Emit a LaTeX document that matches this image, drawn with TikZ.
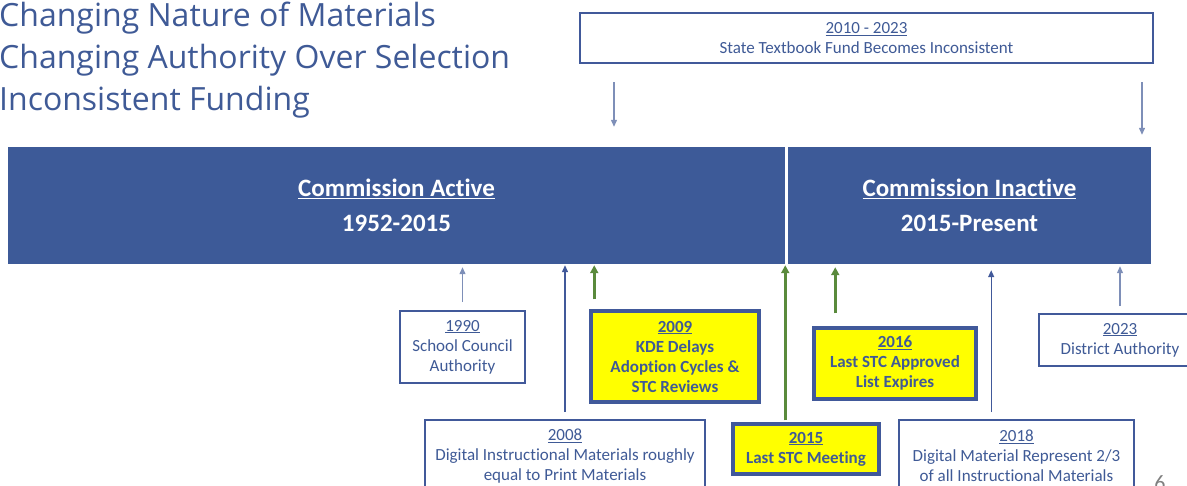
\documentclass[tikz,border=0pt]{standalone}
\usepackage{fontspec}
\setmainfont{Carlito}[Ligatures=NoCommon]
\newfontfamily\titlefont{Open Sans}
\usetikzlibrary{arrows.meta}
\definecolor{bandblue}{HTML}{3D5A98}
\definecolor{txtblue}{HTML}{3F5A96}
\definecolor{boxblue}{HTML}{41599A}
\definecolor{hlyellow}{HTML}{FFFF00}
\definecolor{arrgreen}{HTML}{5A8A3C}
\definecolor{arrblue}{HTML}{41599A}
\definecolor{arrlight}{HTML}{7E8FB8}
\begin{document}
\begin{tikzpicture}[x=1pt,y=-1pt,
  titletext/.style={anchor=base west, inner sep=0pt, text=txtblue, font=\titlefont\fontsize{32}{32}\selectfont},
  band/.style={fill=bandblue, inner sep=0pt, text=white, align=center, font=\bfseries\fontsize{25}{35}\selectfont},
  infobox/.style={draw=boxblue, line width=1.6pt, fill=white, inner sep=0pt, text=txtblue, align=center, font=\fontsize{17}{20}\selectfont},
  hlbox/.style={draw=boxblue, line width=3.5pt, fill=hlyellow, inner sep=0pt, text=txtblue, align=center, font=\bfseries\fontsize{17}{20}\selectfont},
  barrow/.style={draw=arrblue, line width=1.3pt, -{Triangle[width=6pt,length=7pt]}},
  larrow/.style={draw=arrlight, line width=1.2pt, -{Triangle[width=6pt,length=7pt]}},
  garrow/.style={draw=arrgreen, line width=2.6pt, -{Triangle[width=8pt,length=8pt]}}
]
\useasboundingbox (0,0) rectangle (1187,485);
% title
\node[titletext] (t1) at (-1,26) {Changing Nature of Materials};
\node[titletext] (t2) at (-1,68) {Changing Authority Over Selection};
\node[titletext] (t3) at (-1,110) {Inconsistent Funding};
% top box
\node[infobox, minimum width=573pt, minimum height=50pt] (fund) at (866.5,38) {\underline{2010 - 2023}\\State Textbook Fund Becomes Inconsistent};
% band
\node[band, minimum width=777pt, minimum height=117pt] (active) at (396.5,205.5) {\underline{Commission Active}\\1952-2015};
\node[band, minimum width=363pt, minimum height=117pt] (inactive) at (969.5,205.5) {\underline{Commission Inactive}\\2015-Present};
% top arrows
\coordinate (fa1) at (614,82);
\coordinate (fa2) at (1142,82);
\draw[larrow] (fa1) -- ([yshift=20pt]fa1 |- active.north);
\draw[larrow] (fa2) -- ([yshift=12pt]fa2 |- inactive.north);
% bottom boxes
\node[infobox, minimum width=125pt, minimum height=72pt] (b1990) at (462.5,347) {\underline{1990}\\School Council\\Authority};
\node[hlbox, minimum width=168pt, minimum height=91pt] (b2009) at (675,356.5) {\underline{2009}\\KDE Delays\\Adoption Cycles \&\\STC Reviews};
\node[infobox, minimum width=280pt, minimum height=72pt] (b2008) at (565,456) {\underline{2008}\\Digital Instructional Materials roughly\\equal to Print Materials};
\node[hlbox, minimum width=146pt, minimum height=50pt] (b2015) at (806,449) {\underline{2015}\\Last STC Meeting};
\node[hlbox, minimum width=162pt, minimum height=71pt] (b2016) at (895,363.5) {\underline{2016}\\Last STC Approved\\List Expires};
\node[infobox, minimum width=235pt, minimum height=72pt] (b2018) at (1016.5,456) {\underline{2018}\\Digital Material Represent 2/3\\of all Instructional Materials};
\node[infobox, minimum width=162pt, minimum height=52pt] (b2023) at (1120,340) {\underline{2023}\\District Authority};
% bottom arrows
\draw[larrow] ([yshift=8pt]b1990.north) -- ([yshift=-3pt]b1990.north |- active.south);
\draw[barrow] ([yshift=7pt]b2008.north) -- ([yshift=-1pt]b2008.north |- active.south);
\draw[garrow] ([xshift=5pt,yshift=10pt]b2009.north west) coordinate (g2009) -- ([yshift=-1pt]g2009 |- active.south);
\draw[garrow] ([xshift=54pt,yshift=2pt]b2015.north west) coordinate (g2015) -- ([yshift=-1pt]g2015 |- active.south);
\draw[garrow] ([xshift=23pt,yshift=13pt]b2016.north west) coordinate (g2016) -- ([yshift=-3pt]g2016 |- inactive.south);
\draw[barrow] ([xshift=93pt,yshift=7pt]b2018.north west) coordinate (a2018) -- ([yshift=-6pt]a2018 |- inactive.south);
\draw[larrow] ([yshift=7pt]b2023.north) -- ([yshift=-2pt]b2023.north |- inactive.south);
% page number
\node[anchor=base, inner sep=0pt, text=gray, font=\fontsize{22}{22}\selectfont] (pnum) at (1160,490) {6};
\end{tikzpicture}
\end{document}
